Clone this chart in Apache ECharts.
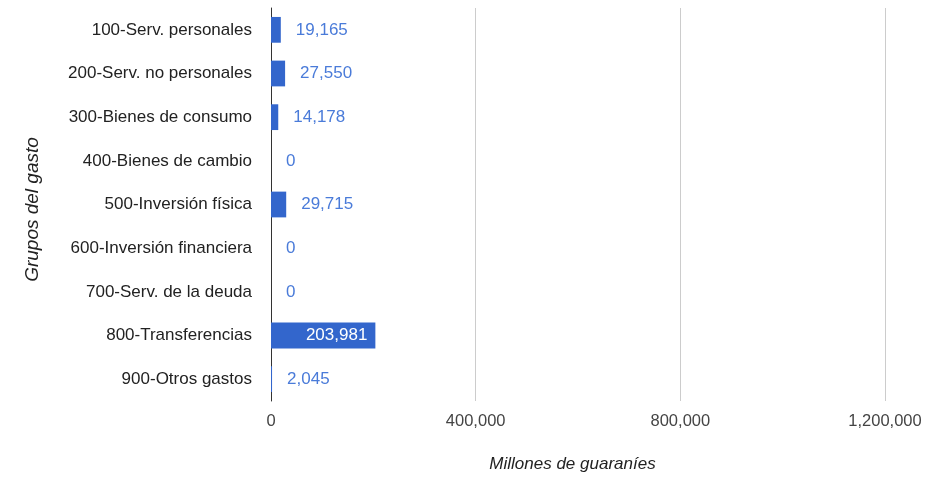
<!DOCTYPE html>
<html>
<head>
<meta charset="utf-8">
<script src="https://cdn.jsdelivr.net/npm/echarts@6/dist/echarts.min.js"></script>
<style>html,body{margin:0;padding:0;background:#fff;}#c{width:942px;height:478px;}</style>
</head>
<body>
<div id="c"></div>
<script>
var categories = ["100-Serv. personales","200-Serv. no personales","300-Bienes de consumo","400-Bienes de cambio","500-Inversión física","600-Inversión financiera","700-Serv. de la deuda","800-Transferencias","900-Otros gastos"];
var values = [19165, 27550, 14178, 0, 29715, 0, 0, 203981, 2045];
var xTicks = [0, 400000, 800000, 1200000];

var font = "Arial, 'Liberation Sans', sans-serif";
var maxVal = Math.max.apply(null, values);
var data = values.map(function(v){
  if (v === maxVal) {
    return {value: v, label: {position: 'insideRight', color: '#ffffff', distance: 8}};
  }
  return v;
});

var chart = echarts.init(document.getElementById('c'), null, {renderer: 'canvas'});
chart.setOption({
  animation: false,
  grid: {left: 271, right: 57, top: 8, bottom: 76, containLabel: false},
  xAxis: {
    type: 'value', min: xTicks[0], max: xTicks[xTicks.length-1], interval: 400000,
    name: 'Millones de guaraníes', nameLocation: 'middle', nameGap: 55,
    nameTextStyle: {fontFamily: font, fontSize: 17, fontStyle: 'italic', color: '#222', padding: [0, 11, 0, 0]},
    axisLine: {show: false}, axisTick: {show: false},
    axisLabel: {fontFamily: font, fontSize: 16.5, color: '#444', margin: 12,
      formatter: function(v){ return v.toLocaleString('en-US'); }},
    splitLine: {show: true, lineStyle: {color: '#cccccc', width: 1}}
  },
  yAxis: {
    type: 'category', data: categories, inverse: true,
    name: 'Grupos del gasto', nameLocation: 'middle', nameGap: 229, nameRotate: 90,
    nameTextStyle: {fontFamily: font, fontSize: 19, fontStyle: 'italic', color: '#222', padding: [0, 10, 0, 0]},
    axisLine: {show: true, lineStyle: {color: '#333', width: 1}},
    axisTick: {show: false},
    axisLabel: {fontFamily: font, fontSize: 17, color: '#222', margin: 19},
    splitLine: {show: false}
  },
  series: [{
    type: 'bar', data: data, barCategoryGap: '41%',
    itemStyle: {color: '#3366cc'},
    label: {show: true, position: 'right', distance: 15, fontFamily: font, fontSize: 17, color: '#4a7bd9',
      formatter: function(p){ return p.value.toLocaleString('en-US'); }}
  }]
});
</script>
</body>
</html>
